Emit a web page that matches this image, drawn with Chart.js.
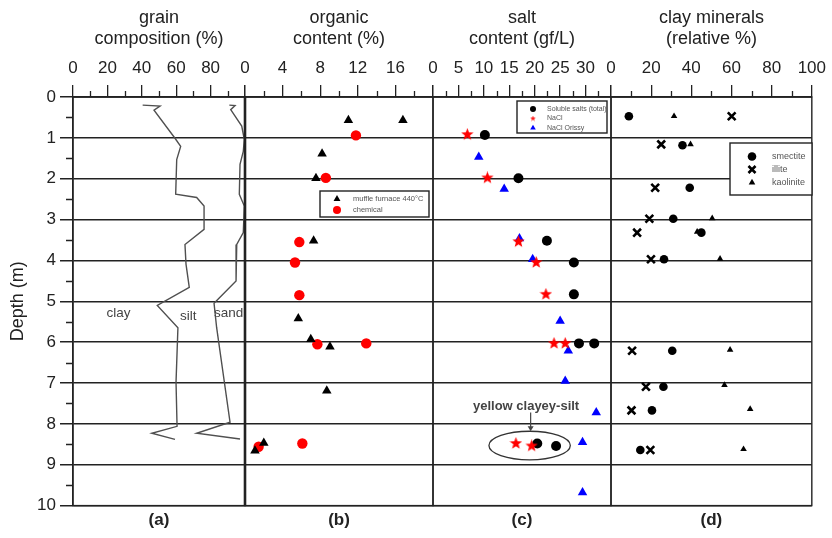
<!DOCTYPE html>
<html>
<head>
<meta charset="utf-8">
<script src="https://cdn.jsdelivr.net/npm/chart.js@4.4.1/dist/chart.umd.min.js"></script>
<style>
  body { margin: 0; background: #fff; }
  #wrap { position: relative; width: 832px; height: 538px; }
  #wrap canvas { position: absolute; left: 0; top: 0; }
</style>
</head>
<body>
<div id="wrap">
  <canvas id="grainChart" width="832" height="538"></canvas>
  <canvas id="organicChart" width="832" height="538"></canvas>
  <canvas id="saltChart" width="832" height="538"></canvas>
  <canvas id="clayChart" width="832" height="538"></canvas>
</div>
<script>
// (a) grain composition: clay boundary and clay+silt boundary, % vs depth (m)
const clayDepth = [0.20, 0.22, 0.32, 1.01, 1.21, 1.53, 2.38, 2.46, 2.67, 3.24, 3.61, 4.09, 4.66, 5.10, 5.65, 6.98, 8.06, 8.23, 8.38];
const clayPct = [40.5, 50.6, 47.1, 59.3, 62.6, 60.3, 59.7, 71.9, 76.2, 76.2, 65.1, 65.7, 67.6, 49.0, 61.0, 59.9, 60.5, 45.8, 59.3];
const siltDepth = [0.20, 0.21, 0.31, 0.71, 1.04, 1.33, 1.65, 2.38, 2.67, 3.32, 3.61, 4.50, 5.05, 5.64, 7.96, 8.23, 8.37];
const siltPct = [90.9, 94.2, 91.7, 98.1, 99.6, 99.0, 97.1, 96.7, 99.6, 99.0, 95.2, 94.8, 82.0, 83.5, 91.3, 71.9, 97.1];

// (b) organic content (%)
const muffleDepth = [0.57, 0.57, 1.39, 1.99, 3.52, 5.42, 5.93, 6.11, 7.19, 8.47, 8.66];
const muffleOrg = [11.0, 16.8, 8.2, 7.55, 7.3, 5.67, 7.0, 9.04, 8.7, 2.0, 1.06];
const chemDepth = [0.94, 1.98, 3.55, 4.05, 4.85, 6.05, 6.03, 8.48, 8.56];
const chemOrg = [11.8, 8.6, 5.78, 5.32, 5.78, 7.7, 12.9, 6.1, 1.45];

// (c) salt content (gf/L)
const solubleDepth = [0.93, 1.99, 3.52, 4.05, 4.83, 6.03, 6.03, 8.48, 8.54];
const solubleSalt = [10.2, 16.8, 22.4, 27.7, 27.7, 28.7, 31.7, 20.5, 24.2];
const naclDepth = [0.92, 1.98, 3.54, 4.05, 4.83, 6.03, 6.03, 8.48, 8.54];
const naclSalt = [6.75, 10.7, 16.8, 20.3, 22.2, 23.8, 26.0, 16.3, 19.4];
const orissyDepth = [1.47, 2.25, 3.46, 3.97, 5.48, 6.21, 6.95, 7.72, 8.45, 9.68];
const orissySalt = [9.0, 14.0, 17.0, 19.6, 25.0, 26.6, 26.0, 32.1, 29.4, 29.4];

// (d) clay minerals (relative %)
const smectiteDepth = [0.47, 1.18, 2.22, 2.98, 3.32, 3.97, 6.21, 7.09, 7.67, 8.64];
const smectitePct = [8.9, 35.6, 39.2, 31.0, 45.0, 26.4, 30.5, 26.1, 20.4, 14.6];
const illiteDepth = [0.47, 1.16, 2.22, 2.98, 3.32, 3.97, 6.21, 7.09, 7.67, 8.64];
const illitePct = [60.1, 25.0, 22.0, 19.1, 13.0, 19.9, 10.5, 17.4, 10.2, 19.6];
const kaoliniteDepth = [0.47, 1.16, 2.97, 3.30, 3.96, 6.19, 7.05, 7.64, 8.62];
const kaolinitePct = [31.4, 39.6, 50.4, 42.9, 54.3, 59.3, 56.5, 69.3, 66.0];

const fontFamily = 'Arial, "Liberation Sans", sans-serif';
Chart.defaults.font.family = fontFamily;
Chart.defaults.color = '#222';

function toPoints(xs, depths) {
  return xs.map((v, i) => ({ x: v, y: depths[i] }));
}

// filled five point star, Chart.js' own 'star' is only an asterisk
function makeStar(size, color) {
  const c = document.createElement('canvas');
  c.width = c.height = size;
  const g = c.getContext('2d');
  const R = size / 2, r = R * 0.42;
  g.beginPath();
  for (let i = 0; i < 10; i++) {
    const a = -Math.PI / 2 + i * Math.PI / 5;
    const rr = i % 2 ? r : R;
    g.lineTo(R + rr * Math.cos(a), R + rr * Math.sin(a));
  }
  g.closePath();
  g.fillStyle = color;
  g.fill();
  return c;
}
const redStar = makeStar(13, '#ff0000');
const smallStar = makeStar(6, '#ff2020');

const minorTicks = {
  id: 'minorTicks',
  afterDraw(chart, args, opts) {
    const ctx = chart.ctx, area = chart.chartArea;
    const xs = chart.scales.x, ys = chart.scales.y;
    ctx.save();
    ctx.strokeStyle = '#222';
    ctx.lineWidth = 1.3;
    ctx.beginPath();
    const n = Math.round((xs.max - xs.min) / opts.xStep);
    for (let i = 1; i < n; i += 2) {
      const px = Math.round(xs.getPixelForValue(xs.min + i * opts.xStep)) + 0.5;
      ctx.moveTo(px, area.top);
      ctx.lineTo(px, area.top - 6);
    }
    if (opts.depth) {
      for (let i = 1; i < 20; i += 2) {
        const py = Math.round(ys.getPixelForValue(i * 0.5)) + 0.5;
        ctx.moveTo(area.left, py);
        ctx.lineTo(area.left - 7, py);
      }
    }
    ctx.stroke();
    ctx.restore();
  }
};

const frame = {
  id: 'frame',
  beforeDatasetsDraw(chart, args, opts) {
    const ctx = chart.ctx, a = chart.chartArea;
    ctx.save();
    ctx.strokeStyle = '#222';
    ctx.lineWidth = 1.4;
    ctx.strokeRect(a.left, a.top, a.right - a.left, a.bottom - a.top);
    if (opts.thickLeft) {
      ctx.lineWidth = 2.6;
      ctx.beginPath();
      ctx.moveTo(a.left, a.top);
      ctx.lineTo(a.left, a.bottom);
      ctx.stroke();
    }
    ctx.restore();
  }
};

const boxLegend = {
  id: 'boxLegend',
  afterDatasetsDraw(chart, args, opts) {
    if (!opts.items) return;
    const ctx = chart.ctx;
    const [bx, by, bw, bh] = opts.box;
    ctx.save();
    ctx.fillStyle = '#fff';
    ctx.fillRect(bx, by, bw, bh);
    ctx.strokeStyle = '#222';
    ctx.lineWidth = 1.4;
    ctx.strokeRect(bx, by, bw, bh);
    ctx.font = opts.fontSize + 'px ' + fontFamily;
    ctx.textBaseline = 'middle';
    ctx.textAlign = 'left';
    opts.items.forEach((it, i) => {
      const ds = chart.data.datasets[it.dataset];
      const y = by + opts.first + i * opts.gap;
      ctx.fillStyle = ds.backgroundColor;
      ctx.strokeStyle = ds.borderColor;
      ctx.lineWidth = ds.borderWidth || 1;
      Chart.helpers.drawPoint(ctx, {
        pointStyle: it.style || ds.pointStyle, radius: it.r,
        borderWidth: ds.borderWidth || 0, rotation: 0
      }, bx + opts.markX, y);
      ctx.fillStyle = '#555';
      ctx.fillText(ds.label, bx + opts.textX, y);
    });
    ctx.restore();
  }
};

const notes = {
  id: 'notes',
  afterDatasetsDraw(chart, args, opts) {
    const ctx = chart.ctx, xs = chart.scales.x, ys = chart.scales.y;
    ctx.save();
    ctx.textAlign = 'center';
    ctx.textBaseline = 'middle';
    (opts.texts || []).forEach(t => {
      ctx.font = (t.bold ? 'bold ' : '') + t.size + 'px ' + fontFamily;
      ctx.fillStyle = '#444';
      ctx.fillText(t.text, xs.getPixelForValue(t.x), ys.getPixelForValue(t.y));
    });
    if (opts.ellipse) {
      const e = opts.ellipse;
      const cx = xs.getPixelForValue(e.x), cy = ys.getPixelForValue(e.y);
      const rx = xs.getPixelForValue(e.x + e.rx) - cx, ry = ys.getPixelForValue(e.y + e.ry) - cy;
      ctx.strokeStyle = '#333';
      ctx.lineWidth = 1.3;
      ctx.beginPath();
      ctx.ellipse(cx, cy, rx, ry, 0, 0, Math.PI * 2);
      ctx.stroke();
    }
    if (opts.arrow) {
      const ar = opts.arrow;
      const px = xs.getPixelForValue(ar.x), y0 = ys.getPixelForValue(ar.from), y1 = ys.getPixelForValue(ar.to);
      ctx.strokeStyle = '#444';
      ctx.fillStyle = '#444';
      ctx.lineWidth = 1.2;
      ctx.beginPath();
      ctx.moveTo(px, y0);
      ctx.lineTo(px, y1 - 4);
      ctx.stroke();
      ctx.beginPath();
      ctx.moveTo(px - 3, y1 - 5);
      ctx.lineTo(px + 3, y1 - 5);
      ctx.lineTo(px, y1);
      ctx.closePath();
      ctx.fill();
    }
    ctx.restore();
  }
};

function makePanel(id, cfg) {
  const showDepth = !!cfg.showDepth;
  return new Chart(document.getElementById(id), {
    type: 'scatter',
    data: { datasets: cfg.datasets },
    options: {
      responsive: false,
      animation: false,
      events: [],
      layout: { padding: { left: cfg.left, right: cfg.right, top: 0, bottom: 0 } },
      plugins: {
        legend: { display: false },
        tooltip: { enabled: false },
        title: {
          display: true, text: cfg.tag, position: 'bottom', fullSize: false,
          font: { size: 17, weight: 'bold' }, color: '#222', padding: { top: 5, bottom: 7 }
        },
        minorTicks: { xStep: cfg.step / 2, depth: showDepth },
        frame: { thickLeft: !!cfg.thickLeft },
        boxLegend: cfg.legend || {},
        notes: cfg.notes || {}
      },
      scales: {
        x: {
          type: 'linear', position: 'top', min: 0, max: cfg.max,
          ticks: {
            stepSize: cfg.step, padding: 6, font: { size: 17 }, color: '#222', maxRotation: 0,
            callback: (v) => (cfg.hideLast && v === cfg.max ? '' : v)
          },
          grid: { drawOnChartArea: false, drawTicks: true, tickLength: 12, color: '#222', lineWidth: 1.3 },
          border: { display: true, color: '#222', width: 1.4 },
          title: {
            display: true, text: cfg.title, font: { size: 18, lineHeight: 1.2 },
            color: '#222', padding: { top: 7, bottom: 0 }
          },
          afterFit: (s) => { s.height = 97; }
        },
        y: {
          type: 'linear', reverse: true, min: 0, max: 10,
          ticks: { stepSize: 1, display: showDepth, font: { size: 17 }, padding: 4, color: '#222' },
          grid: { color: '#222', lineWidth: 1.5, drawTicks: showDepth, tickLength: 13, tickColor: '#222' },
          border: { display: showDepth, color: '#222', width: 1.4 },
          title: {
            display: showDepth, text: 'Depth (m)', font: { size: 18 },
            color: '#222', padding: { top: 7, bottom: 0 }
          },
          afterFit: (s) => { s.width = showDepth ? 73 : 0; }
        }
      }
    },
    plugins: [minorTicks, frame, boxLegend, notes]
  });
}

const lineStyle = { showLine: true, pointRadius: 0, borderColor: '#505050', borderWidth: 1.4, tension: 0 };

makePanel('grainChart', {
  showDepth: true, left: 0, right: 832 - 245, max: 100, step: 20, hideLast: true,
  title: ['grain', 'composition (%)'], tag: '(a)',
  datasets: [
    Object.assign({ label: 'clay', data: toPoints(clayPct, clayDepth) }, lineStyle),
    Object.assign({ label: 'silt', data: toPoints(siltPct, siltDepth) }, lineStyle)
  ],
  notes: {
    texts: [
      { x: 26.5, y: 5.3, text: 'clay', size: 13.5 },
      { x: 67, y: 5.36, text: 'silt', size: 13.5 },
      { x: 90.5, y: 5.3, text: 'sand', size: 13.5 }
    ]
  }
});

makePanel('organicChart', {
  left: 245, right: 832 - 433, max: 20, step: 4, hideLast: true, thickLeft: true,
  title: ['organic', 'content (%)'], tag: '(b)',
  datasets: [
    { label: 'muffle furnace 440°C', data: toPoints(muffleOrg, muffleDepth), pointStyle: 'triangle',
      pointRadius: 5.5, backgroundColor: '#000', borderColor: '#000', borderWidth: 0, order: 0 },
    { label: 'chemical', data: toPoints(chemOrg, chemDepth), pointStyle: 'circle',
      pointRadius: 5.2, backgroundColor: '#ff0000', borderColor: '#ff0000', borderWidth: 0, order: 1 }
  ],
  legend: {
    box: [320, 191, 109, 26], fontSize: 7.5, markX: 17, textX: 33, first: 8, gap: 11,
    items: [{ dataset: 0, r: 4 }, { dataset: 1, r: 4 }]
  }
});

makePanel('saltChart', {
  left: 433, right: 832 - 611, max: 35, step: 5, hideLast: true,
  title: ['salt', 'content (gf/L)'], tag: '(c)',
  datasets: [
    { label: 'Soluble salts (total)', data: toPoints(solubleSalt, solubleDepth), pointStyle: 'circle',
      pointRadius: 5, backgroundColor: '#000', borderColor: '#000', borderWidth: 0, order: 2 },
    { label: 'NaCl', data: toPoints(naclSalt, naclDepth), pointStyle: redStar,
      backgroundColor: '#ff0000', borderColor: '#ff0000', borderWidth: 0, order: 0 },
    { label: 'NaCl Orissy', data: toPoints(orissySalt, orissyDepth), pointStyle: 'triangle',
      pointRadius: 5.5, backgroundColor: '#0000ff', borderColor: '#0000ff', borderWidth: 0, order: 1 }
  ],
  legend: {
    box: [517, 101, 90, 32], fontSize: 7, markX: 16, textX: 30, first: 8, gap: 9.5,
    items: [{ dataset: 0, r: 3 }, { dataset: 1, r: 3, style: smallStar }, { dataset: 2, r: 3.2 }]
  },
  notes: {
    texts: [{ x: 18.3, y: 7.57, text: 'yellow clayey-silt', size: 13, bold: true }],
    ellipse: { x: 19.0, y: 8.53, rx: 8.0, ry: 0.35 },
    arrow: { x: 19.2, from: 7.72, to: 8.18 }
  }
});

makePanel('clayChart', {
  left: 611, right: 832 - 815, max: 100, step: 20, hideLast: false,
  title: ['clay minerals', '(relative %)'], tag: '(d)',
  datasets: [
    { label: 'smectite', data: toPoints(smectitePct, smectiteDepth), pointStyle: 'circle',
      pointRadius: 4.3, backgroundColor: '#000', borderColor: '#000', borderWidth: 0 },
    { label: 'illite', data: toPoints(illitePct, illiteDepth), pointStyle: 'crossRot',
      pointRadius: 5.5, backgroundColor: '#000', borderColor: '#000', borderWidth: 2.6 },
    { label: 'kaolinite', data: toPoints(kaolinitePct, kaoliniteDepth), pointStyle: 'triangle',
      pointRadius: 3.8, backgroundColor: '#000', borderColor: '#000', borderWidth: 0 }
  ],
  legend: {
    box: [730, 143, 82, 52], fontSize: 9, markX: 22, textX: 42, first: 13.5, gap: 13,
    items: [{ dataset: 0, r: 4.3 }, { dataset: 1, r: 5 }, { dataset: 2, r: 3.8 }]
  }
});
</script>
</body>
</html>
